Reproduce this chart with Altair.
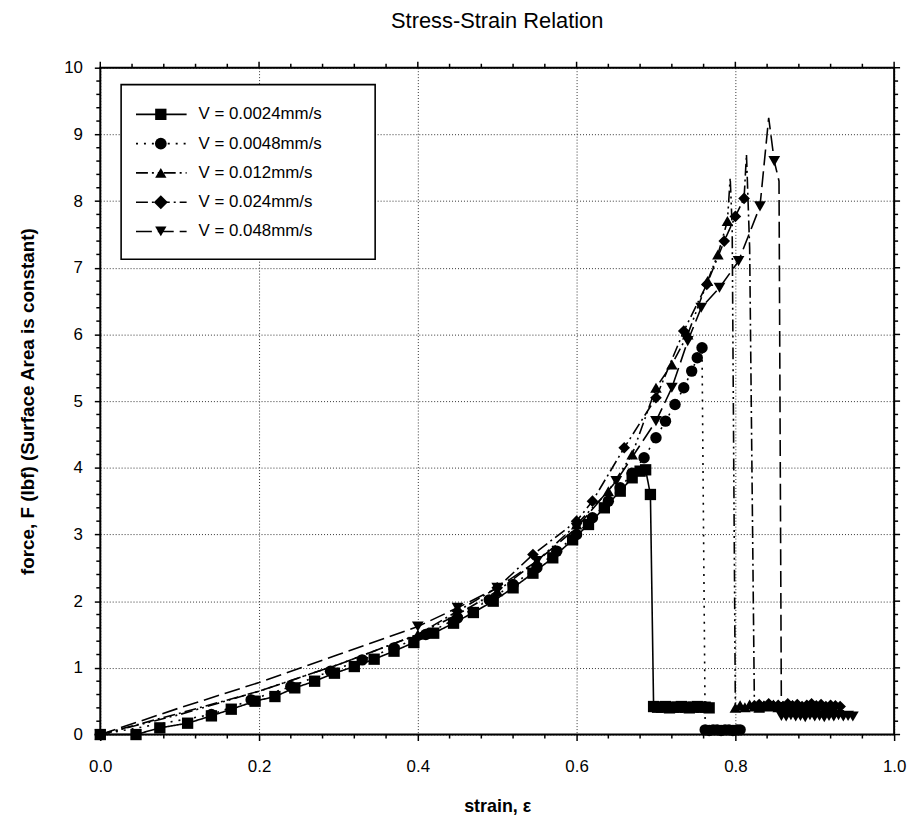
import altair as alt
import pandas as pd

FONT = "Liberation Sans"

names = ["V = 0.0024mm/s", "V = 0.0048mm/s", "V = 0.012mm/s", "V = 0.024mm/s", "V = 0.048mm/s"]
shapes = ["square", "circle", "triangle-up", "diamond", "triangle-down"]
dashes = [[1, 0], [2, 6], [12, 4, 2, 4, 2, 4], [12, 4, 2, 4], [16, 6]]
sizes = [130, 140, 130, 200, 130]

# ---- series 1 : V = 0.0024mm/s (markers) ----
s1_strain = [0.0, 0.045, 0.075, 0.11, 0.14, 0.165, 0.195, 0.22, 0.245, 0.27, 0.295, 0.32, 0.345, 0.37,
             0.395, 0.42, 0.445, 0.47, 0.495, 0.52, 0.545, 0.57, 0.595, 0.615, 0.635, 0.655, 0.67, 0.68,
             0.687, 0.693, 0.697, 0.702, 0.707, 0.712, 0.717, 0.722, 0.727, 0.732, 0.737, 0.742, 0.747,
             0.752, 0.757, 0.762, 0.767]
s1_force = [0.0, 0.0, 0.1, 0.17, 0.28, 0.38, 0.5, 0.57, 0.7, 0.8, 0.92, 1.02, 1.13, 1.25,
            1.38, 1.52, 1.67, 1.83, 2.0, 2.2, 2.42, 2.65, 2.92, 3.15, 3.4, 3.65, 3.85, 3.95,
            3.97, 3.6, 0.42, 0.41, 0.41, 0.42, 0.40, 0.41, 0.41, 0.42, 0.41, 0.40, 0.41,
            0.42, 0.41, 0.41, 0.40]
s1_line_strain = []
s1_line_force = []

# ---- series 2 : V = 0.0048mm/s ----
s2_strain = [0.0, 0.14, 0.19, 0.24, 0.29, 0.33, 0.37, 0.41, 0.45, 0.49, 0.52, 0.55, 0.575, 0.6, 0.62,
             0.64, 0.655, 0.67, 0.685, 0.7, 0.712, 0.724, 0.735, 0.745, 0.752, 0.758,
             0.762, 0.767, 0.772, 0.777, 0.782, 0.787, 0.792, 0.797, 0.802, 0.806]
s2_force = [0.0, 0.3, 0.52, 0.72, 0.95, 1.12, 1.3, 1.5, 1.75, 2.02, 2.25, 2.5, 2.75, 3.0, 3.25,
            3.5, 3.7, 3.92, 4.15, 4.45, 4.7, 4.95, 5.2, 5.45, 5.65, 5.8,
            0.07, 0.06, 0.07, 0.07, 0.06, 0.07, 0.07, 0.06, 0.07, 0.07]
s2_line_strain = []
s2_line_force = []

# ---- series 3 : V = 0.012mm/s ----
s3_strain = [0.0, 0.4, 0.45, 0.5, 0.55, 0.6, 0.64, 0.67, 0.7, 0.72, 0.74, 0.765, 0.778, 0.79,
             0.8, 0.806, 0.812, 0.818, 0.824, 0.83, 0.836, 0.842, 0.848, 0.854, 0.86, 0.866,
             0.872, 0.878, 0.884, 0.89, 0.896, 0.902, 0.908, 0.914, 0.92]
s3_force = [0.0, 1.5, 1.8, 2.15, 2.6, 3.15, 3.65, 4.2, 5.2, 5.55, 6.0, 6.8, 7.2, 7.7,
            0.40, 0.44, 0.41, 0.45, 0.42, 0.40, 0.44, 0.42, 0.45, 0.41, 0.43, 0.40,
            0.44, 0.42, 0.41, 0.44, 0.42, 0.40, 0.43, 0.41, 0.42]
s3_line_strain = [0.1, 0.2, 0.3, 0.7935, 0.796]
s3_line_force = [0.3, 0.65, 1.05, 8.35, 7.6]

# ---- series 4 : V = 0.024mm/s ----
s4_strain = [0.0, 0.45, 0.5, 0.545, 0.6, 0.62, 0.66, 0.7, 0.735, 0.764, 0.786, 0.8, 0.811,
             0.824, 0.83, 0.836, 0.842, 0.848, 0.854, 0.86, 0.866, 0.872, 0.878, 0.884, 0.89,
             0.896, 0.902, 0.908, 0.914, 0.92, 0.926, 0.932]
s4_force = [0.0, 1.85, 2.2, 2.7, 3.2, 3.5, 4.3, 5.05, 6.05, 6.75, 7.4, 7.77, 8.04,
            0.43, 0.45, 0.42, 0.46, 0.43, 0.44, 0.42, 0.46, 0.43, 0.45, 0.42, 0.44,
            0.46, 0.43, 0.45, 0.42, 0.44, 0.43, 0.42]
s4_line_strain = [0.1, 0.2, 0.3, 0.4, 0.814, 0.818]
s4_line_force = [0.32, 0.65, 1.05, 1.5, 8.7, 7.3]

# ---- series 5 : V = 0.048mm/s ----
s5_strain = [0.0, 0.4, 0.45, 0.5, 0.55, 0.6, 0.65, 0.7, 0.72, 0.74, 0.757, 0.78, 0.804, 0.831, 0.849,
             0.858, 0.864, 0.87, 0.876, 0.882, 0.888, 0.894, 0.9, 0.906, 0.912, 0.918, 0.924,
             0.93, 0.936, 0.942, 0.948]
s5_force = [0.0, 1.62, 1.9, 2.2, 2.6, 3.1, 3.8, 4.7, 5.2, 5.9, 6.4, 6.7, 7.1, 7.92, 8.6,
            0.28, 0.27, 0.29, 0.27, 0.28, 0.26, 0.29, 0.27, 0.28, 0.26, 0.28, 0.27,
            0.29, 0.27, 0.28, 0.27]
s5_line_strain = [0.1, 0.2, 0.3, 0.842, 0.855]
s5_line_force = [0.4, 0.78, 1.2, 9.25, 8.3]

x_major = [0.0, 0.2, 0.4, 0.6, 0.8, 1.0]
y_major = [0, 1, 2, 3, 4, 5, 6, 7, 8, 9, 10]

marker_sets = [(s1_strain, s1_force), (s2_strain, s2_force), (s3_strain, s3_force),
               (s4_strain, s4_force), (s5_strain, s5_force)]
line_sets = [(s1_line_strain, s1_line_force), (s2_line_strain, s2_line_force),
             (s3_line_strain, s3_line_force), (s4_line_strain, s4_line_force),
             (s5_line_strain, s5_line_force)]

pts_rows, line_rows = [], []
for name, (xs_, ys_), (lx, ly) in zip(names, marker_sets, line_sets):
    for a, b in zip(xs_, ys_):
        pts_rows.append({"series": name, "strain": a, "force": b})
        line_rows.append({"series": name, "strain": a, "force": b})
    for a, b in zip(lx, ly):
        line_rows.append({"series": name, "strain": a, "force": b})
df_pts = pd.DataFrame(pts_rows)
df_line = pd.DataFrame(line_rows).sort_values(["series", "strain"]).reset_index(drop=True)
df_line["idx"] = range(len(df_line))

W, H = 800, 672

xs = alt.Scale(domain=[0, 1], nice=False, zero=False)
ys = alt.Scale(domain=[0, 10], nice=False)

x_axis = alt.Axis(values=x_major, format=".1f", title="strain, \u03b5", titleFontSize=18,
                  titleFontWeight="bold", titleFont=FONT, labelFont=FONT, labelFontSize=17,
                  labelColor="black", titleColor="black", tickSize=6, tickColor="black",
                  tickWidth=1.5, domain=False, grid=True, gridDash=[1, 2], gridColor="#333",
                  gridWidth=1, labelPadding=18, titlePadding=24, labelFlush=False)
y_axis = alt.Axis(values=y_major, format="d", title="force, F (lbf) (Surface Area is constant)",
                  titleFontSize=19, titleFontWeight="bold", titleFont=FONT, labelFont=FONT,
                  labelFontSize=17, labelColor="black", titleColor="black", tickSize=6,
                  tickColor="black", tickWidth=1.5, domain=False, grid=True, gridDash=[1, 2],
                  gridColor="#333", gridWidth=1, labelPadding=12, titlePadding=26)

X = lambda f: alt.X(f, scale=xs, axis=x_axis)
Y = lambda f: alt.Y(f, scale=ys, axis=y_axis)

dash_scale = alt.Scale(domain=names, range=dashes)
shape_scale = alt.Scale(domain=names, range=shapes)
size_scale = alt.Scale(domain=names, range=sizes)

lines = alt.Chart(df_line).mark_line(color="black", strokeWidth=1.6).encode(
    x=X("strain:Q"),
    y=Y("force:Q"),
    detail="series:N",
    order=alt.Order("idx:Q"),
    strokeDash=alt.StrokeDash("series:N", scale=dash_scale, legend=None),
)

points = alt.Chart(df_pts).mark_point(filled=True, color="black", opacity=1).encode(
    x=X("strain:Q"),
    y=Y("force:Q"),
    shape=alt.Shape("series:N", scale=shape_scale, legend=None),
    size=alt.Size("series:N", scale=size_scale, legend=None),
)

# minor / mirrored ticks
x_minor = [round(0.04 * i, 2) for i in range(1, 25) if i % 5 != 0]
y_minor = [round(0.2 * i, 1) for i in range(1, 50) if i % 5 != 0]
df_xmin = pd.DataFrame({"strain": x_minor})
df_ymin = pd.DataFrame({"force": y_minor})
df_xmaj = pd.DataFrame({"strain": x_major})
df_ymaj = pd.DataFrame({"force": y_major})

tick_layers = [
    alt.Chart(df_xmin).mark_rule(color="black", strokeWidth=1.5).encode(
        x=X("strain:Q"), y=alt.value(H), y2=alt.value(H + 4)),
    alt.Chart(df_xmin).mark_rule(color="black", strokeWidth=1.5).encode(
        x=X("strain:Q"), y=alt.value(0), y2=alt.value(-4)),
    alt.Chart(df_xmaj).mark_rule(color="black", strokeWidth=1.5).encode(
        x=X("strain:Q"), y=alt.value(0), y2=alt.value(-6)),
    alt.Chart(df_ymin).mark_rule(color="black", strokeWidth=1.5).encode(
        y=Y("force:Q"), x=alt.value(0), x2=alt.value(-4)),
    alt.Chart(df_ymin).mark_rule(color="black", strokeWidth=1.5).encode(
        y=Y("force:Q"), x=alt.value(W), x2=alt.value(W + 4)),
    alt.Chart(df_ymaj).mark_rule(color="black", strokeWidth=1.5).encode(
        y=Y("force:Q"), x=alt.value(W), x2=alt.value(W + 6)),
]

# legend box (pixel layout)
box = alt.Chart(pd.DataFrame({"k": [0]})).mark_rect(fill="white", stroke="black", strokeWidth=1.6).encode(
    x=alt.value(21), x2=alt.value(277), y=alt.value(17), y2=alt.value(193))
legend_layers = [box]
for i, name in enumerate(names):
    yy = 47 + 29.5 * i
    one = pd.DataFrame({"label": [name]})
    legend_layers.append(alt.Chart(one).mark_rule(color="black", strokeWidth=1.6, strokeDash=dashes[i]).encode(
        x=alt.value(36), x2=alt.value(87), y=alt.value(yy)))
    legend_layers.append(alt.Chart(one).mark_point(filled=True, color="black", opacity=1,
                                                   shape=shapes[i], size=sizes[i]).encode(
        x=alt.value(61), y=alt.value(yy)))
    legend_layers.append(alt.Chart(one).mark_text(align="left", baseline="middle", font=FONT,
                                                  fontSize=17, color="black").encode(
        x=alt.value(99), y=alt.value(yy), text="label:N"))

# frame drawn explicitly
frame = alt.Chart(pd.DataFrame({"k": [0]})).mark_rect(fill=None, stroke="black", strokeWidth=2).encode(
    x=alt.value(0), x2=alt.value(W), y=alt.value(0), y2=alt.value(H))

chart = alt.layer(lines, points, *tick_layers, *legend_layers, frame).properties(
    width=W, height=H,
    title=alt.TitleParams("Stress-Strain Relation", font=FONT, fontSize=22, fontWeight="normal",
                          color="black", anchor="middle", offset=26),
    autosize=alt.AutoSizeParams(type="none"),
    padding={"left": 93, "top": 57, "right": 16, "bottom": 90},
).configure_view(stroke="black", strokeWidth=2).configure(background="white")

chart.save("out.html", embed_options={"renderer": "svg", "actions": False})
